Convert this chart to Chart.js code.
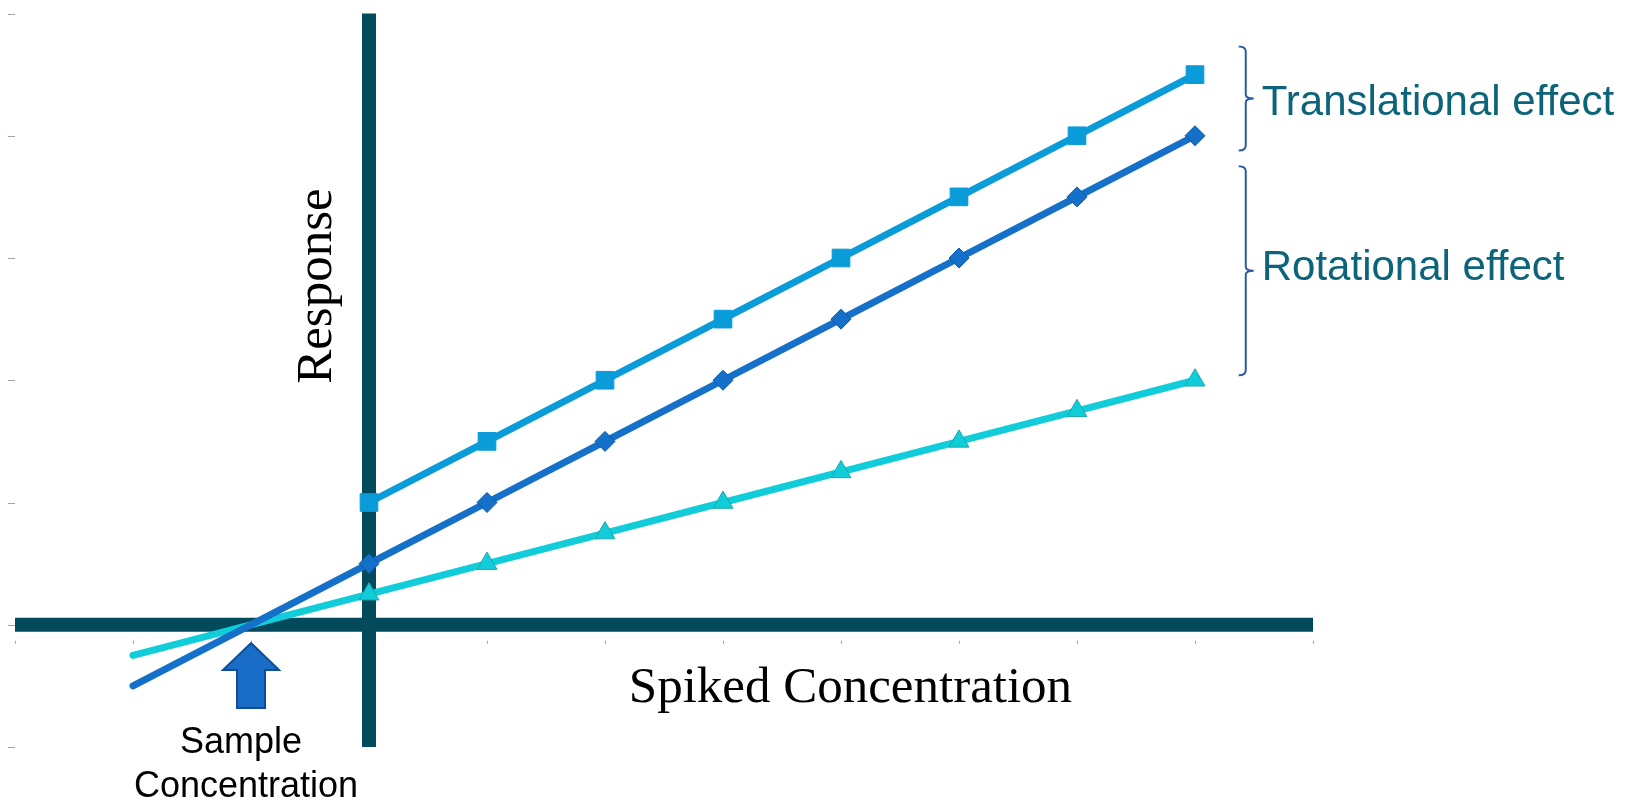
<!DOCTYPE html>
<html>
<head>
<meta charset="utf-8">
<script src="https://cdn.jsdelivr.net/npm/chart.js@4.4.1/dist/chart.umd.min.js"></script>
<style>
    html, body { margin: 0; padding: 0; background: #FFFFFF; }
    #wrap { width: 1632px; height: 800px; position: relative; }
</style>
</head>
<body>
<div id="wrap"><canvas id="chart"></canvas></div>
<script>
/* ===========================================
   Standard addition plot — Chart.js
   =========================================== */

// spiked concentration levels
const concentrations = [0, 1, 2, 3, 4, 5, 6, 7];

// responses per series
const translatedResponse = [1.0, 1.5, 2.0, 2.5, 3.0, 3.5, 4.0, 4.5];
const sampleResponse = [0.5, 1.0, 1.5, 2.0, 2.5, 3.0, 3.5, 4.0];
const rotatedResponse = [0.25, 0.5, 0.75, 1.0, 1.25, 1.5, 1.75, 2.0];

// extrapolation back to the sample concentration
const extrapX = [-2, 0];
const sampleExtrap = [-0.5, 0.5];
const rotatedExtrap = [-0.25, 0.25];

// axis ranges / tick values
const xTicks = [-3, -2, -1, 0, 1, 2, 3, 4, 5, 6, 7, 8];
const yTicks = [-1, 0, 1, 2, 3, 4, 5];

// annotation labels
const sampleLabel = ['Sample', 'Concentration'];
const sampleConcentration = -1;
const brackets = [
    { label: 'Translational effect', from: 4.73, to: 3.88, textShift: 5 },
    { label: 'Rotational effect', from: 3.75, to: 2.04, textShift: -2 },
];

const Colors = {
    axis: '#034A5C',
    tick: '#9AA6AE',
    translated: '#0A9BD9',
    sample: '#1570C9',
    sampleBorder: '#0F58A8',
    rotated: '#10CDD9',
    rotatedBorder: '#1BA7AC',
    arrow: '#1A6DC6',
    arrowBorder: '#0E4E96',
    bracket: '#2A5BA8',
    effectText: '#0B6479',
    text: '#000000',
};

const toPoints = (xs, ys) => xs.map((x, i) => ({ x, y: ys[i] }));

// thick cross-hair axes + faint tick marks, drawn under the series
const axesPlugin = {
    id: 'crossAxes',
    beforeDatasetsDraw(chart) {
        const { ctx, chartArea: a, scales: { x, y } } = chart;
        const x0 = x.getPixelForValue(0);
        const y0 = y.getPixelForValue(0);
        ctx.save();
        ctx.strokeStyle = Colors.tick;
        ctx.lineWidth = 1;
        yTicks.forEach(v => {
            const py = Math.round(y.getPixelForValue(v)) + 0.5;
            ctx.beginPath();
            ctx.moveTo(a.left - 7, py);
            ctx.lineTo(a.left, py);
            ctx.stroke();
        });
        xTicks.forEach(v => {
            const px = Math.round(x.getPixelForValue(v)) + 0.5;
            ctx.beginPath();
            ctx.moveTo(px, y0 + 16);
            ctx.lineTo(px, y0 + 19);
            ctx.stroke();
        });
        ctx.strokeStyle = Colors.axis;
        ctx.lineWidth = 14;
        ctx.beginPath();
        ctx.moveTo(a.left, y0);
        ctx.lineTo(a.right, y0);
        ctx.moveTo(x0, a.top);
        ctx.lineTo(x0, a.bottom);
        ctx.stroke();
        ctx.restore();
    },
};

// arrow, brackets and free-floating labels
const notesPlugin = {
    id: 'notes',
    afterDatasetsDraw(chart) {
        const { ctx, scales: { x, y } } = chart;
        ctx.save();

        // up arrow at the sample concentration
        const ax = x.getPixelForValue(sampleConcentration);
        const tip = y.getPixelForValue(-0.15);
        const neck = y.getPixelForValue(-0.37);
        const base = y.getPixelForValue(-0.68);
        ctx.beginPath();
        ctx.moveTo(ax, tip);
        ctx.lineTo(ax + 28, neck);
        ctx.lineTo(ax + 14, neck);
        ctx.lineTo(ax + 14, base);
        ctx.lineTo(ax - 14, base);
        ctx.lineTo(ax - 14, neck);
        ctx.lineTo(ax - 28, neck);
        ctx.closePath();
        ctx.fillStyle = Colors.arrow;
        ctx.fill();
        ctx.lineWidth = 2;
        ctx.strokeStyle = Colors.arrowBorder;
        ctx.stroke();

        ctx.fillStyle = Colors.text;
        ctx.font = '36px "Liberation Sans", Arial, sans-serif';
        ctx.textAlign = 'center';
        ctx.textBaseline = 'alphabetic';
        ctx.fillText(sampleLabel[0], ax - 10, 753);
        ctx.fillText(sampleLabel[1], ax - 5, 797);

        // axis titles
        ctx.font = '51px "Liberation Serif", "Times New Roman", serif';
        ctx.textBaseline = 'middle';
        ctx.fillText('Spiked Concentration', x.getPixelForValue(4.08), y.getPixelForValue(-0.5) + 3);
        ctx.save();
        ctx.translate(x.getPixelForValue(-0.45) + 2, y.getPixelForValue(2.77));
        ctx.rotate(-Math.PI / 2);
        ctx.fillText('Response', 0, 0);
        ctx.restore();

        // right curly brackets with effect labels
        const bx = x.getPixelForValue(7.43);
        ctx.strokeStyle = Colors.bracket;
        ctx.lineWidth = 2;
        ctx.font = '42px "Liberation Sans", Arial, sans-serif';
        ctx.textAlign = 'left';
        brackets.forEach(b => {
            const t = y.getPixelForValue(b.from);
            const btm = y.getPixelForValue(b.to);
            const mid = (t + btm) / 2;
            ctx.beginPath();
            ctx.moveTo(bx - 7, t);
            ctx.quadraticCurveTo(bx, t, bx, t + 5);
            ctx.lineTo(bx, mid - 4);
            ctx.quadraticCurveTo(bx, mid, bx + 8, mid);
            ctx.quadraticCurveTo(bx, mid, bx, mid + 4);
            ctx.lineTo(bx, btm - 5);
            ctx.quadraticCurveTo(bx, btm, bx - 7, btm);
            ctx.stroke();
            ctx.fillStyle = Colors.effectText;
            ctx.fillText(b.label, bx + 16, mid + b.textShift);
        });
        ctx.restore();
    },
};

function lineSet(data, color, style, radius, border, width) {
    return {
        data,
        borderColor: color,
        backgroundColor: color,
        borderWidth: width || 7,
        borderCapStyle: 'round',
        showLine: true,
        pointStyle: style,
        pointRadius: radius,
        pointHoverRadius: radius,
        pointBackgroundColor: color,
        pointBorderColor: border || color,
        pointBorderWidth: 1,
    };
}

new Chart(document.getElementById('chart'), {
    type: 'scatter',
    data: {
        datasets: [
            lineSet(toPoints(concentrations, translatedResponse), Colors.translated, 'rect', 12.5),
            lineSet(toPoints(concentrations, sampleResponse), Colors.sample, 'rectRot', 10, Colors.sampleBorder),
            lineSet(toPoints(concentrations, rotatedResponse), Colors.rotated, 'triangle', 11.5, Colors.rotatedBorder),
            lineSet(toPoints(extrapX, sampleExtrap), Colors.sample, false, 0),
            lineSet(toPoints(extrapX, rotatedExtrap), Colors.rotated, false, 0),
        ],
    },
    options: {
        responsive: true,
        maintainAspectRatio: false,
        animation: false,
        layout: { padding: { left: 15, top: 12, right: 319, bottom: 53 } },
        scales: {
            x: { type: 'linear', min: xTicks[0], max: xTicks[xTicks.length - 1], display: false },
            y: { type: 'linear', min: yTicks[0], max: yTicks[yTicks.length - 1], display: false },
        },
        plugins: {
            legend: { display: false },
            tooltip: { enabled: false },
        },
    },
    plugins: [axesPlugin, notesPlugin],
});
</script>
</body>
</html>
